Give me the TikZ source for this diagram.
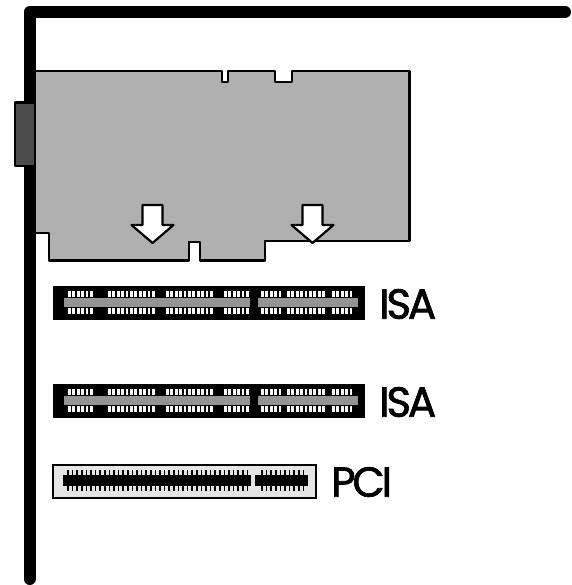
\documentclass[tikz,border=0pt]{standalone}
\usepackage{fontspec}
\setmainfont{Poppins}
\usetikzlibrary{positioning}

\tikzset{
    outline/.style={draw=black, line width=2.2pt, line join=round},
    boardarrow/.style={outline, fill=white},
    slotname/.style={font=\fontsize{42}{42}\selectfont\addfontfeature{LetterSpace=-7.5,FakeBold=1.6}, inner sep=0pt, anchor=west}
}

\begin{document}
\begin{tikzpicture}[x=1pt,y=-1pt]

    \useasboundingbox (0,0) rectangle (571,585);

    % bracket
    \draw[line width=12pt, line cap=round, line join=round] (29.5,579) -- (29.5,12) -- (565,12);
    \draw[outline, fill=black!70] (15,102.5) rectangle (35,166);

    % card
    \draw[outline, fill=black!31] (35,71) -- (222,71) -- (222,82) -- (228,82) -- (228,71)
        -- (275,71) -- (275,82) -- (292,82) -- (292,71) -- (409.5,71) -- (409.5,241)
        -- (265,241) -- (265,260.5) -- (200,260.5) -- (200,242) -- (189,242) -- (189,260.5)
        -- (49,260.5) -- (49,233) -- (35,233) -- cycle;

    \foreach \x in {152.5,312.5}
        \draw[boardarrow] (\x-10,205) -- (\x+10,205) -- (\x+10,225) -- (\x+21,225) -- (\x,243)
            -- (\x-21,225) -- (\x-10,225) -- cycle;

    % ISA slots
    \foreach \offset in {0,98} {
        \fill[black] (53,286+\offset) rectangle (365,320+\offset);
        \fill[black!42] (64,298+\offset) rectangle (250,307+\offset);
        \fill[black!42] (258,298+\offset) rectangle (358,307+\offset);
        \foreach \start/\pins in {68/6,108/11,166/11,224/6,261/5,287/9,332/5}
            \foreach \p in {1,...,\pins} {
                \fill[white] (\start+\p*4.4-4.4,291+\offset) rectangle +(2.8,6);
                \fill[white] (\start+\p*4.4-4.4,308+\offset) rectangle +(2.8,5.5);
            }
    }

    % PCI slot
    \draw[line width=1.8pt, fill=black!10] (53,465) rectangle (316,498);
    \foreach \start/\pins in {68/39,262/9}
        \foreach \p in {0,...,\pins}
            \draw[line width=1.6pt] (\start+\p*4.6,470) -- (\start+\p*4.6,491);
    \fill[black] (63,475) rectangle (251,486);
    \fill[black] (255,475) rectangle (308,486);

    \node[slotname] (isaone) at (379,304) {ISA};
    \node[slotname] (isatwo) at (379,402) {ISA};
    \node[slotname] (pci) at (331,482) {PCI};

\end{tikzpicture}
\end{document}
